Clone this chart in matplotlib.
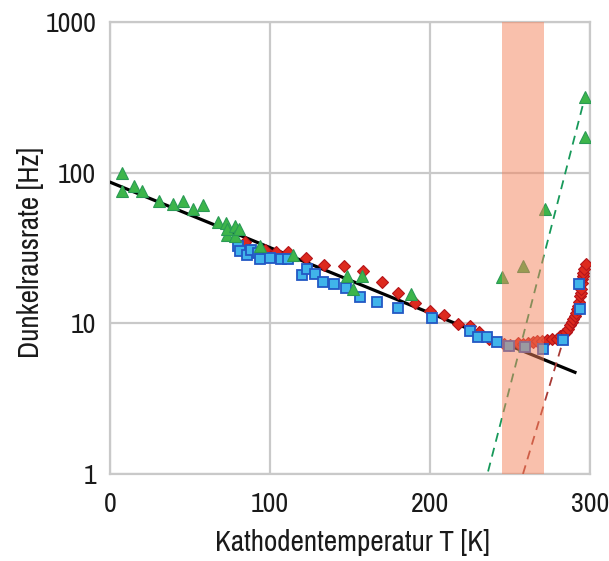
import matplotlib
matplotlib.use("Agg")
import matplotlib.pyplot as plt

# Green triangles
green_T = [7.5, 7.8, 15, 20, 30.4, 39.2, 45.6, 51.9, 57.9, 67.5, 72.5, 73.1, 73.1,
           78.1, 78.1, 80.6, 93.75, 114.4, 148, 157.5, 151.9, 188, 244.8, 258, 272,
           296.9, 296.9]
green_rate = [100, 76, 82, 75, 64.6, 62, 65, 57.8, 61.4, 46.9, 46.4, 38.8, 42,
              44.6, 37.9, 42.6, 32.4, 28.6, 20.5, 20.5, 16.8, 15.7, 20.4, 23.9, 57.3,
              318, 173]

# Blue squares
blue_T = [80.2, 81.25, 85.4, 88.1, 92.7, 93.75, 100, 106.9, 111.25, 119.8, 122.9,
          128.1, 133.3, 140, 147.5, 156.25, 166.7, 180.3, 201, 224.7, 230.2, 235.9,
          242.1, 249.6, 259.4, 270.8, 283.3, 293.75, 293.4]
blue_rate = [32.5, 30.1, 28.2, 30.9, 29.2, 26.7, 27.2, 26.8, 26.8, 20.8, 23.0,
             21.1, 18.8, 18.3, 17.1, 15.0, 13.8, 12.7, 10.9, 8.9, 8.15, 8.15,
             7.57, 7.08, 6.97, 6.8, 7.8, 12.5, 18.3]

# Red diamonds
red_T = [84.4, 96.9, 103.75, 111.4, 122.5, 133.75, 146.25, 158.3, 169.8, 180.2,
         190.9, 200.3, 209, 217.5, 225, 230.9, 237, 246.25, 250, 255, 258, 261,
         264.4, 267, 270, 272.9, 276, 279.2, 281.5, 283.1, 284.8, 286.25, 287.5,
         288.6, 289.6, 290.6, 291.4, 292.1, 292.7, 293.3, 293.75, 294.1, 294.4,
         294.8, 295.1, 295.4, 295.8, 296.25, 297.5]
red_rate = [34.5, 30.9, 29.8, 29.8, 27.2, 24.3, 23.9, 22.4, 18.9, 16.0,
            13.7, 12.1, 11.3, 9.9, 9.55, 8.7, 7.9, 7.26, 7.2, 7.38, 7.3, 7.45,
            7.49, 7.6, 7.65, 7.75, 7.85, 7.93, 8.2, 8.46, 8.8, 9.12, 9.7,
            10.2, 10.7, 11.2, 11.8, 12.4, 13.1, 13.8, 15.2, 16.0, 16.8,
            18.6, 19.6, 20.6, 21.7, 22.8, 24.6]

# Exponential fit (black) and two steep trend lines (dashed)
fit_T = [0.6, 290.6]
fit_rate = [86, 4.73]
green_trend_T = [236.3, 296.9]
green_trend_rate = [1.04, 320]
red_trend_T = [258.1, 283.1]
red_trend_rate = [1.0, 7.6]

# Highlighted temperature band
band_T = (245, 271)

x_ticks = [0, 100, 200, 300]
y_ticks = [1, 10, 100, 1000]
y_ticklabels = ["1", "10", "100", "1000"]

plt.rcParams["font.family"] = ["Archivo Narrow", "Liberation Sans", "DejaVu Sans"]

fig = plt.figure(figsize=(6.09, 5.61), dpi=100)
ax = fig.add_axes([110 / 609, 1 - 474 / 561, 480 / 609, 452 / 561])

ax.set_yscale("log")
ax.set_xlim(0, 300)
ax.set_ylim(1, 1000)

grid_c = "#c9c9c9"
ax.grid(True, which="major", color=grid_c, linewidth=1.6, zorder=0)
ax.minorticks_off()
for sp in ax.spines.values():
    sp.set_color(grid_c)
    sp.set_linewidth(1.6)

ax.plot(fit_T, fit_rate, color="black", linewidth=2.3, zorder=3)
ax.plot(green_trend_T, green_trend_rate, color="#17995a", linewidth=1.3,
        dashes=(5, 3.5), zorder=3)
ax.plot(red_trend_T, red_trend_rate, color="#a83a35", linewidth=1.3,
        dashes=(5, 3.5), zorder=3)

ax.plot(red_T, red_rate, linestyle="none", marker="D", markersize=6.5,
        markerfacecolor="#dd2a1e", markeredgecolor="#b5141a", markeredgewidth=0.8,
        zorder=4)
ax.plot(blue_T, blue_rate, linestyle="none", marker="s", markersize=7.2,
        markerfacecolor="#40b4ea", markeredgecolor="#2358c4", markeredgewidth=1.3,
        zorder=5)
ax.plot(green_T, green_rate, linestyle="none", marker="^", markersize=8.6,
        markerfacecolor="#3db54a", markeredgecolor="#2a9a55", markeredgewidth=0.8,
        zorder=6)

ax.axvspan(band_T[0], band_T[1], color="#f5825a", alpha=0.5, linewidth=0,
           zorder=7)

ax.set_xticks(x_ticks)
ax.set_xticklabels([str(t) for t in x_ticks])
ax.set_yticks(y_ticks)
ax.set_yticklabels(y_ticklabels)
ax.tick_params(axis="both", length=0, labelsize=20, colors="#1a1a1a")
ax.tick_params(axis="y", pad=10)
ax.tick_params(axis="x", pad=13)

ax.set_xlabel("Kathodentemperatur T [K]", fontsize=21, color="#1a1a1a")
ax.xaxis.set_label_coords(0.504, -0.122)
ax.set_ylabel("Dunkelrausrate [Hz]", fontsize=21, color="#1a1a1a", va="center")
ax.yaxis.set_label_coords(-0.165, 0.49)

fig.savefig("out.png", dpi=100)
